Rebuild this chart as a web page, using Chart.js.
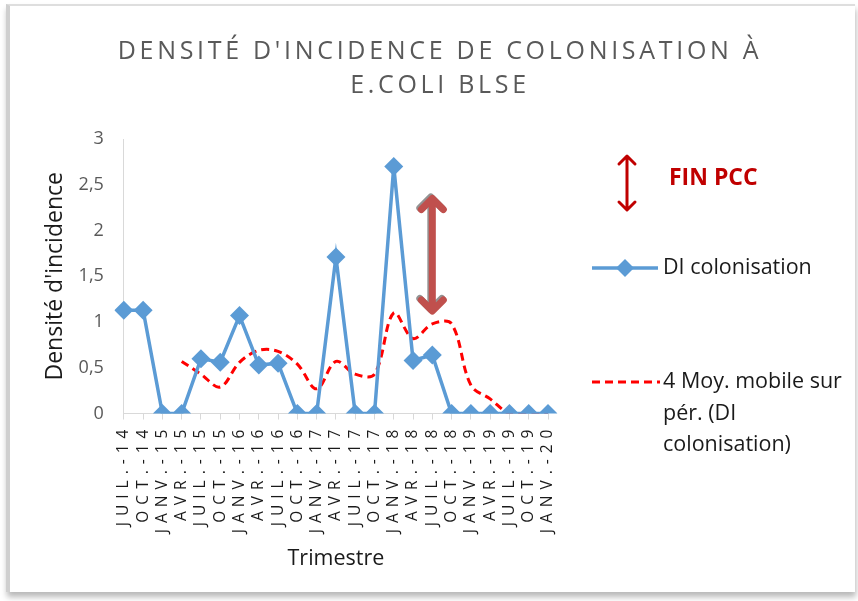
<!DOCTYPE html>
<html>
<head>
<meta charset="utf-8">
<script src="https://cdn.jsdelivr.net/npm/chart.js@4.4.1/dist/chart.umd.min.js"></script>
<style>
  html, body { margin: 0; padding: 0; background: #fff; }
  #wrap { position: relative; width: 858px; height: 601px; overflow: hidden; }
  #frame {
    position: absolute; left: 6px; top: 4px; width: 845px; height: 586px;
    border-left: 4px solid #cfcfcf; border-top: 2px solid #dedede;
    box-shadow: 1px 5px 6px rgba(0,0,0,0.28);
    pointer-events: none;
  }
  canvas { position: absolute; left: 0; top: 0; }
</style>
</head>
<body>
<div id="wrap">
  <canvas id="chart" width="858" height="601"></canvas>
  <div id="frame"></div>
</div>
<script>
// data
const trimestres = ['JUIL.-14', 'OCT.-14', 'JANV.-15', 'AVR.-15', 'JUIL.-15', 'OCT.-15',
  'JANV.-16', 'AVR.-16', 'JUIL.-16', 'OCT.-16', 'JANV.-17', 'AVR.-17', 'JUIL.-17',
  'OCT.-17', 'JANV.-18', 'AVR.-18', 'JUIL.-18', 'OCT.-18', 'JANV.-19', 'AVR.-19',
  'JUIL.-19', 'OCT.-19', 'JANV.-20'];
const diColonisation = [1.13, 1.13, 0, 0, 0.6, 0.56, 1.07, 0.53, 0.55, 0, 0, 1.71, 0,
  0, 2.7, 0.58, 0.64, 0, 0, 0, 0, 0, 0];
const moyMobile = [null, null, null, 0.57, 0.43, 0.29, 0.56, 0.69, 0.68, 0.54, 0.27,
  0.57, 0.43, 0.43, 1.1, 0.82, 0.98, 0.98, 0.31, 0.16, 0, 0, 0];
const finPccIndex = 16;          // JUIL.-18
const finPccRange = [1.12, 2.35];

const labelDI = 'DI colonisation';
const labelMoy = '4 Moy. mobile sur pér. (DI colonisation)';
const labelMoyLines = ['4 Moy. mobile sur', 'pér. (DI', 'colonisation)'];

const FONT = "'Open Sans', sans-serif";
const X_SPACING = 6;   // px between letters of the month labels

function arrow(ctx, x, y1, y2, w, head, color) {
  ctx.strokeStyle = color;
  ctx.lineWidth = w;
  ctx.lineCap = 'round';
  ctx.lineJoin = 'round';
  ctx.beginPath();
  ctx.moveTo(x, y1 + 2); ctx.lineTo(x, y2 - 2);
  ctx.moveTo(x - head, y1 + head); ctx.lineTo(x, y1); ctx.lineTo(x + head, y1 + head);
  ctx.moveTo(x - head, y2 - head); ctx.lineTo(x, y2); ctx.lineTo(x + head, y2 - head);
  ctx.stroke();
}

// letter spacing on the title and on the x labels, like the Excel original
const spacing = {
  id: 'spacing',
  afterLayout(chart) {
    const sx = chart.scales.x;
    if (!sx._spaced) {
      const orig = sx.drawLabels;
      sx.drawLabels = function (area) {
        this.ctx.letterSpacing = X_SPACING + 'px';
        orig.call(this, area);
        this.ctx.letterSpacing = '0px';
      };
      sx._spaced = true;
    }
    const tb = chart.titleBlock;
    if (tb && !tb._spaced) {
      const origT = tb.draw;
      tb.draw = function (area) {
        const c = this.ctx;
        const l = this.left, r = this.right;
        // centre the title on the whole picture, not on the plot
        this.left = 0; this.right = chart.width;
        c.save();
        c.translate(11, 0);
        c.letterSpacing = '3.7px';
        origT.call(this, area);
        c.letterSpacing = '0px';
        c.restore();
        this.left = l; this.right = r;
      };
      tb._spaced = true;
    }
  }
};

// end of PCC marker and the legend on the right
const finPcc = {
  id: 'finPcc',
  afterDatasetsDraw(chart) {
    const {ctx, scales: {x, y}} = chart;
    const px = x.getPixelForValue(finPccIndex);
    const top = y.getPixelForValue(finPccRange[1]);
    const bot = y.getPixelForValue(finPccRange[0]);
    ctx.save();
    arrow(ctx, px - 1.5, top - 1.5, bot - 1.5, 7, 11, 'rgba(120,120,120,0.8)');
    arrow(ctx, px, top, bot, 7, 11, '#c0504d');
    ctx.restore();
  },
  afterDraw(chart) {
    const ctx = chart.ctx;
    ctx.save();
    // FIN PCC
    arrow(ctx, 627, 156, 210, 3, 8, '#c00000');
    ctx.fillStyle = '#c00000';
    ctx.font = "bold 23px " + FONT;
    ctx.textBaseline = 'middle';
    ctx.fillText('FIN PCC', 669, 178);

    // DI colonisation
    const d0 = chart.data.datasets[0];
    ctx.strokeStyle = d0.borderColor;
    ctx.lineWidth = 3.5;
    ctx.lineCap = 'butt';
    ctx.setLineDash([]);
    ctx.beginPath(); ctx.moveTo(592, 268); ctx.lineTo(658, 268); ctx.stroke();
    ctx.fillStyle = d0.borderColor;
    ctx.beginPath();
    ctx.moveTo(625, 259); ctx.lineTo(634, 268); ctx.lineTo(625, 277); ctx.lineTo(616, 268);
    ctx.closePath(); ctx.fill();
    ctx.fillStyle = '#1a1a1a';
    ctx.font = "21.5px " + FONT;
    ctx.fillText(d0.label, 663, 268);

    // moving average
    const d1 = chart.data.datasets[1];
    ctx.strokeStyle = d1.borderColor;
    ctx.lineWidth = 3;
    ctx.setLineDash([8, 5]);
    ctx.beginPath(); ctx.moveTo(592, 382); ctx.lineTo(660, 382); ctx.stroke();
    ctx.setLineDash([]);
    labelMoyLines.forEach((t, i) => ctx.fillText(t, 663, 382 + i * 31.5));
    ctx.restore();
  }
};

new Chart(document.getElementById('chart'), {
  type: 'line',
  data: {
    labels: trimestres,
    datasets: [{
      label: labelDI,
      data: diColonisation,
      borderColor: '#5b9bd5',
      backgroundColor: '#5b9bd5',
      borderWidth: 3.5,
      pointStyle: 'rectRot',
      pointRadius: 9.5,
      pointHoverRadius: 9.5,
      pointBorderWidth: 0,
      tension: 0
    }, {
      label: labelMoy,
      data: moyMobile,
      borderColor: '#ff0000',
      backgroundColor: '#ff0000',
      borderWidth: 3,
      borderDash: [8, 5],
      pointRadius: 0,
      tension: 0.35,
      spanGaps: false
    }]
  },
  options: {
    responsive: false,
    animation: false,
    layout: { padding: { top: 35, left: 42, right: 310, bottom: 29 } },
    plugins: {
      legend: { display: false },
      tooltip: { enabled: false },
      title: {
        display: true,
        text: ["DENSITÉ D'INCIDENCE DE COLONISATION À", 'E.COLI BLSE'],
        color: '#595959',
        font: { family: FONT, size: 25, weight: 'normal', lineHeight: '34px' },
        padding: { top: 0, bottom: 36 }
      }
    },
    scales: {
      x: {
        offset: false,
        // room for the letter spacing of the longest label (8 letters)
        afterFit: s => { s.height += 8 * X_SPACING; },
        grid: { drawOnChartArea: false, drawTicks: true, tickLength: 6, color: '#d9d9d9' },
        border: { display: true, color: '#d9d9d9', width: 1 },
        ticks: {
          autoSkip: false, minRotation: 90, maxRotation: 90, padding: 4,
          color: '#1a1a1a', font: { family: FONT, size: 15.5 }
        },
        title: {
          display: true, text: 'Trimestre', color: '#1a1a1a',
          font: { family: FONT, size: 21.5, lineHeight: 1.2 }, padding: { top: 9, bottom: 0 }
        }
      },
      y: {
        min: 0, max: 3,
        grid: { display: false, drawTicks: false },
        border: { display: true, color: '#d9d9d9', width: 1 },
        ticks: {
          stepSize: 0.5, padding: 20, color: '#595959',
          font: { family: FONT, size: 18 },
          callback: v => String(v).replace('.', ',')
        },
        title: {
          display: true, text: "Densité d'incidence", color: '#1a1a1a',
          // tick padding is counted twice by Chart.js, take it back here
          font: { family: FONT, size: 23, lineHeight: 1.2 }, padding: { top: 0, bottom: -11 }
        }
      }
    }
  },
  plugins: [spacing, finPcc]
});
</script>
</body>
</html>
